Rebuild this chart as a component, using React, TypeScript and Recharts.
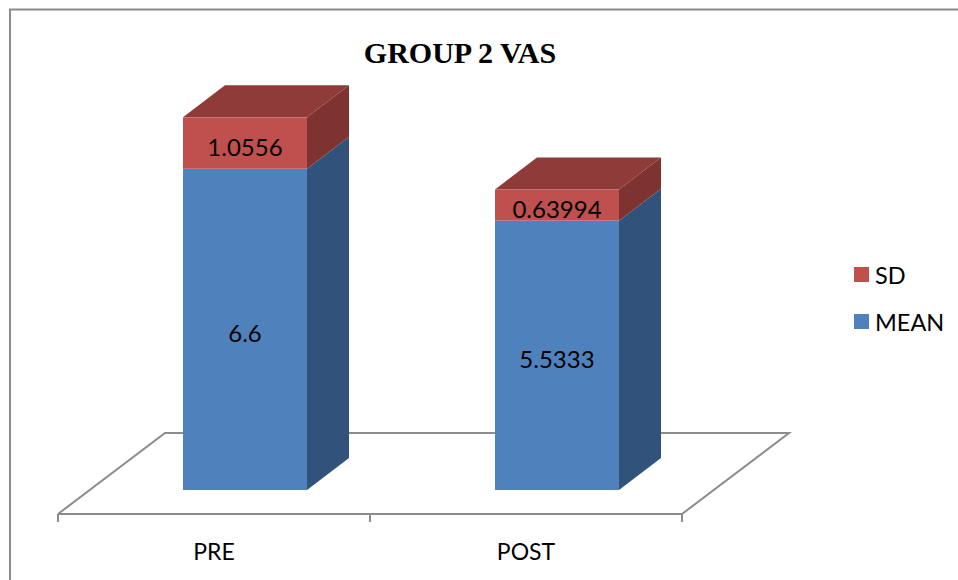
import { BarChart, Bar, XAxis, YAxis, Legend, LabelList } from 'recharts'

const categories = ['PRE', 'POST']
const meanValues = [6.6, 5.5333]
const sdValues = [1.0556, 0.63994]
const yDomain = [-0.493, 8.833]

const data = categories.map((name, i) => ({ name, MEAN: meanValues[i], SD: sdValues[i] }))

const FONT = 'Lato, "Noto Sans", sans-serif'
const AXIS_GRAY = '#8c8c8c'

// fake 3d: how far the bars and the floor are pushed back
const DEPTH_X = 42
const DEPTH_Y = 32
const BAR_SHIFT = 31

const PLOT_LEFT = 58
const PLOT_RIGHT = 682
const PLOT_BOTTOM = 514
const XAXIS_HEIGHT = 30
const LEGEND_WIDTH = 100
const FLOOR_DX = 107
const FLOOR_DY = 81

function box3d(front: string, side: string, top?: string) {
  return function Box(props: any) {
    const { x, y, width, height } = props
    const l = x + BAR_SHIFT
    const r = l + width
    const b = y + height
    return (
      <g>
        {top && <polygon points={`${l},${y} ${l + DEPTH_X},${y - DEPTH_Y} ${r + DEPTH_X},${y - DEPTH_Y} ${r},${y}`} fill={top} />}
        <polygon points={`${r},${y} ${r + DEPTH_X},${y - DEPTH_Y} ${r + DEPTH_X},${b - DEPTH_Y} ${r},${b}`} fill={side} />
        <rect x={l} y={y} width={width} height={height} fill={front} />
      </g>
    )
  }
}

function barLabel(props: any) {
  const { x, y, width, height, value } = props
  return (
    <text
      x={x + BAR_SHIFT + width / 2}
      y={y + height / 2 + 3}
      textAnchor="middle"
      dominantBaseline="central"
      fontFamily={FONT}
      fontSize={24}
      fill="#000"
    >
      {value}
    </text>
  )
}

function legendContent() {
  const items = [
    { label: 'SD', color: '#C0504D' },
    { label: 'MEAN', color: '#4F81BD' },
  ]
  return (
    <div style={{ fontFamily: FONT, fontSize: 23.5, color: '#000' }}>
      {items.map((it) => (
        <div key={it.label} style={{ display: 'flex', alignItems: 'center', height: 47 }}>
          <span style={{ width: 15, height: 15, background: it.color, marginRight: 6 }} />
          {it.label}
        </div>
      ))}
    </div>
  )
}

export default function App() {
  const mid = (PLOT_LEFT + PLOT_RIGHT) / 2
  return (
    <div style={{ position: 'absolute', left: 0, top: 0, width: 958, height: 580, background: '#fff' }}>
      <BarChart
        width={958}
        height={580}
        data={data}
        barSize={124}
        margin={{ top: 60, right: 958 - PLOT_RIGHT - LEGEND_WIDTH, bottom: 580 - PLOT_BOTTOM - XAXIS_HEIGHT, left: PLOT_LEFT }}
      >
        <path d="M10 581 V9.5 H959" fill="none" stroke={AXIS_GRAY} strokeWidth={2} />
        <text x={460} y={63} textAnchor="middle" fontFamily='"Liberation Serif", serif' fontWeight="bold" fontSize={30} fill="#000">
          GROUP 2 VAS
        </text>
        <path
          d={`M${PLOT_LEFT} ${PLOT_BOTTOM} L${PLOT_LEFT + FLOOR_DX} ${PLOT_BOTTOM - FLOOR_DY} H${PLOT_RIGHT + FLOOR_DX} L${PLOT_RIGHT} ${PLOT_BOTTOM}`}
          fill="none"
          stroke={AXIS_GRAY}
          strokeWidth={2}
        />
        <path
          d={`M${PLOT_LEFT} ${PLOT_BOTTOM} v8 M${mid} ${PLOT_BOTTOM} v8 M${PLOT_RIGHT} ${PLOT_BOTTOM} v8`}
          fill="none"
          stroke={AXIS_GRAY}
          strokeWidth={2}
        />
        <XAxis
          dataKey="name"
          height={XAXIS_HEIGHT}
          axisLine={{ stroke: AXIS_GRAY, strokeWidth: 2 }}
          tickLine={false}
          tickMargin={24}
          tick={{ fontFamily: FONT, fontSize: 23, fill: '#000' }}
        />
        <YAxis hide domain={yDomain} />
        <Legend
          content={legendContent}
          layout="vertical"
          verticalAlign="middle"
          align="right"
          wrapperStyle={{ position: 'absolute', left: 854, top: 251, width: LEGEND_WIDTH, right: 'auto', bottom: 'auto' }}
        />
        <Bar dataKey="MEAN" stackId="a" fill="#4F81BD" shape={box3d('#4F81BD', '#31527A')} isAnimationActive={false}>
          <LabelList dataKey="MEAN" content={barLabel} />
        </Bar>
        <Bar dataKey="SD" stackId="a" fill="#C0504D" shape={box3d('#C0504D', '#7E3331', '#8E3B39')} isAnimationActive={false}>
          <LabelList dataKey="SD" content={barLabel} />
        </Bar>
      </BarChart>
    </div>
  )
}
